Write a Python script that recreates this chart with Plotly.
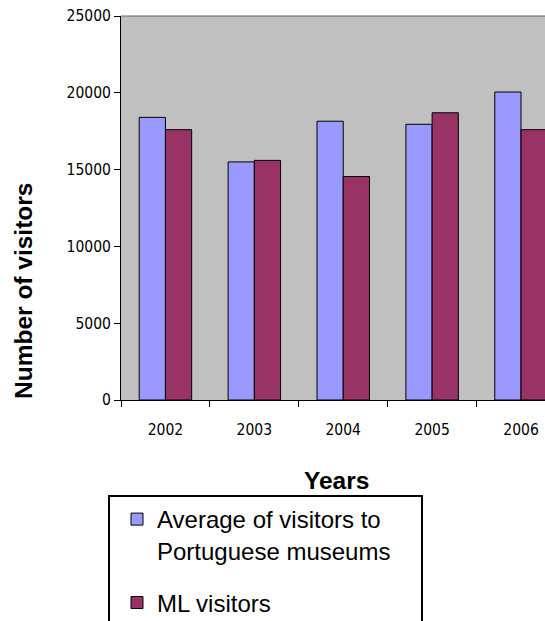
import plotly.graph_objects as go

# Yearly visitor counts
years = ["2002", "2003", "2004", "2005", "2006"]
avg_visitors = [18400, 15500, 18150, 17950, 20050]
ml_visitors = [17600, 15600, 14550, 18700, 17600]

avg_name = "Average of visitors to<br>Portuguese museums"
ml_name = "ML visitors"

BLUE = "#9999FF"
PLUM = "#993366"
TICK_FONT = dict(family="Liberation Sans Narrow, DejaVu Sans Condensed, Arial Narrow, sans-serif",
                 size=15.5, color="black")
TEXT_FAMILY = "Liberation Sans, Arial, sans-serif"

W, H = 545, 621
ML_, MT, MB = 121, 16, 221
plot_w = W - ML_
plot_h = H - MT - MB


def px_x(x):
    return (x - ML_) / plot_w


def px_y(y):
    return (H - MB - y) / plot_h


fig = go.Figure()
fig.add_trace(go.Bar(x=years, y=avg_visitors, name=avg_name, legendgroup="a",
                     marker=dict(color=BLUE, line=dict(color="black", width=1))))
fig.add_trace(go.Bar(x=years, y=ml_visitors, name=ml_name, legendgroup="b",
                     marker=dict(color=PLUM, line=dict(color="black", width=1))))

fig.update_layout(
    width=W, height=H,
    margin=dict(l=ML_, r=0, t=MT, b=MB, autoexpand=False),
    paper_bgcolor="white",
    plot_bgcolor="#C0C0C0",
    barmode="group",
    bargap=0.41,
    bargroupgap=0,
    showlegend=True,
    legend=dict(
        x=px_x(117), y=px_y(497), xanchor="left", yanchor="top",
        font=dict(family=TEXT_FAMILY, size=24, color="black"),
        bgcolor="rgba(0,0,0,0)", borderwidth=0,
        traceorder="grouped", tracegroupgap=18, valign="top",
    ),
    xaxis=dict(
        type="category", range=[-0.5, 4.27],
        showline=True, linecolor="black", linewidth=1,
        ticks="outside", ticklen=6, tickcolor="black", tickson="boundaries",
        ticklabelstandoff=15,
        tickfont=TICK_FONT, showgrid=False, zeroline=False,
    ),
    yaxis=dict(
        range=[0, 25000], dtick=5000, tickformat="d",
        showline=True, linecolor="black", linewidth=1,
        ticks="outside", ticklen=6, tickcolor="black",
        tickfont=TICK_FONT, showgrid=False, zeroline=False,
    ),
    annotations=[
        dict(text="<b>Years</b>", xref="paper", yref="paper",
             x=px_x(336), y=px_y(480), xanchor="center", yanchor="middle",
             showarrow=False,
             font=dict(family=TEXT_FAMILY, size=24.5, color="black")),
        dict(text="<b>Number of visitors</b>", xref="paper", yref="paper",
             x=px_x(23), y=px_y(291), xanchor="center", yanchor="middle",
             textangle=-90, showarrow=False,
             font=dict(family=TEXT_FAMILY, size=24.5, color="black")),
    ],
    shapes=[
        # top border of the plotting area
        dict(type="line", xref="paper", yref="paper", x0=0, x1=1, y0=1, y1=1,
             line=dict(color="#666666", width=1)),
        # legend frame
        dict(type="rect", xref="paper", yref="paper",
             x0=px_x(109), x1=px_x(422), y0=px_y(496), y1=px_y(660),
             line=dict(color="black", width=2), fillcolor="rgba(0,0,0,0)"),
    ],
)

fig.write_html("out.html")
